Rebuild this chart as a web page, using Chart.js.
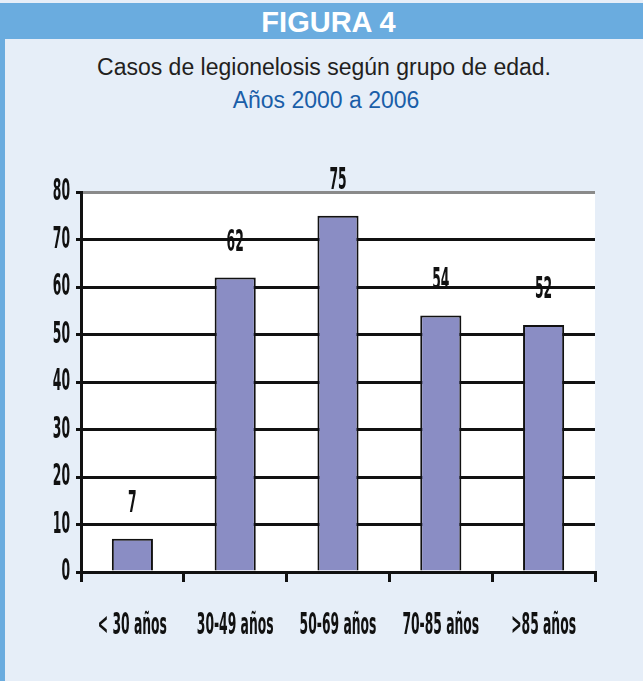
<!DOCTYPE html>
<html>
<head>
<meta charset="utf-8">
<script src="https://cdn.jsdelivr.net/npm/chart.js@4/dist/chart.umd.min.js"></script>
<style>
  html, body { margin: 0; padding: 0; }
  body { width: 643px; height: 681px; background: #e6eef8; position: relative; overflow: hidden;
         font-family: "Liberation Sans", Arial, sans-serif; }
  .frame { position: absolute; left: 0; top: 3px; width: 5px; height: 678px; background: #6aacdf; }
  .head { position: absolute; left: 0; top: 3px; width: 643px; height: 36px; background: #6aacdf; }
  .headtxt { position: absolute; left: 0; top: 8px; width: 643px; text-align: center;
             color: #fff; font-weight: bold; font-size: 29px; line-height: 29px; padding-left: 14px; box-sizing: border-box; }
  .title { position: absolute; left: 0; width: 643px; text-align: center; top: 56px;
           font-size: 23px; line-height: 23px; color: #231f20; padding-left: 5px; box-sizing: border-box; }
  .sub { position: absolute; left: 0; width: 643px; text-align: center; top: 89px;
         font-size: 23px; line-height: 23px; color: #1a5ea8; padding-left: 9px; box-sizing: border-box; }
  canvas { position: absolute; left: 0; top: 150px; }
</style>
</head>
<body>
<div class="frame"></div>
<div class="head"></div>
<div class="headtxt">FIGURA 4</div>
<div class="title">Casos de legionelosis según grupo de edad.</div>
<div class="sub">Años 2000 a 2006</div>
<canvas id="chart" width="643" height="531"></canvas>
<script>
// age groups and case counts
const categories = ['< 30 años', '30-49 años', '50-69 años', '70-85 años', '>85 años'];
const cases = [7, 62, 75, 54, 52];
const yTicks = [0, 10, 20, 30, 40, 50, 60, 70, 80];

const labelFont = 'bold 31px "Liberation Sans Narrow", "DejaVu Sans Condensed", "Liberation Sans", sans-serif';

// draw condensed text (the original uses a very narrow bold face)
function narrowText(ctx, text, x, y, align) {
  ctx.save();
  ctx.font = labelFont;
  const sx = 8.6 / ctx.measureText('0').width;
  ctx.translate(x, y);
  ctx.scale(sx, 1);
  ctx.textAlign = align;
  ctx.textBaseline = 'middle';
  ctx.fillStyle = '#111';
  ctx.fillText(text, 0, 0);
  ctx.restore();
}

const plotBg = {
  id: 'plotBg',
  beforeDraw(chart) {
    const a = chart.chartArea, ctx = chart.ctx;
    ctx.save();
    ctx.fillStyle = '#ffffff';
    ctx.fillRect(a.left, a.top, a.right - a.left, a.bottom - a.top);
    ctx.restore();
  }
};

const labels = {
  id: 'labels',
  afterDraw(chart) {
    const ctx = chart.ctx;
    const ys = chart.scales.y, xs = chart.scales.x;
    yTicks.forEach(v => narrowText(ctx, String(v), ys.right - 11, ys.getPixelForValue(v), 'right'));
    categories.forEach((c, i) => narrowText(ctx, c, xs.getPixelForTick(i), chart.chartArea.bottom + 54, 'center'));
    chart.getDatasetMeta(0).data.forEach((bar, i) => {
      narrowText(ctx, String(cases[i]), bar.x, bar.y - 35, 'center');
    });
  }
};

new Chart(document.getElementById('chart'), {
  type: 'bar',
  data: {
    labels: categories,
    datasets: [{
      data: cases,
      backgroundColor: '#8a8dc4',
      borderColor: '#111',
      borderWidth: 2,
      categoryPercentage: 1,
      barPercentage: 0.4
    }]
  },
  options: {
    responsive: false,
    devicePixelRatio: 1,
    animation: false,
    layout: { padding: { left: 0, right: 48, top: 42, bottom: 0 } },
    plugins: { legend: { display: false }, tooltip: { enabled: false } },
    scales: {
      x: {
        grid: {
          offset: true,
          drawOnChartArea: true,
          color: c => c.index === categories.length ? '#8a8a8a' : 'rgba(0,0,0,0)',
          tickColor: '#111',
          lineWidth: 3,
          tickLength: 10
        },
        border: { color: '#111', width: 3 },
        ticks: { display: false },
        afterFit: s => { s.height = 109; }
      },
      y: {
        min: 0,
        max: 80,
        ticks: { display: false, stepSize: 10 },
        grid: {
          color: c => c.tick && c.tick.value === 80 ? '#8a8a8a' : '#111',
          tickColor: '#111',
          lineWidth: 3,
          tickLength: 5
        },
        border: { color: '#111', width: 3 },
        afterFit: s => { s.width = 81; }
      }
    }
  },
  plugins: [plotBg, labels]
});
</script>
</body>
</html>
